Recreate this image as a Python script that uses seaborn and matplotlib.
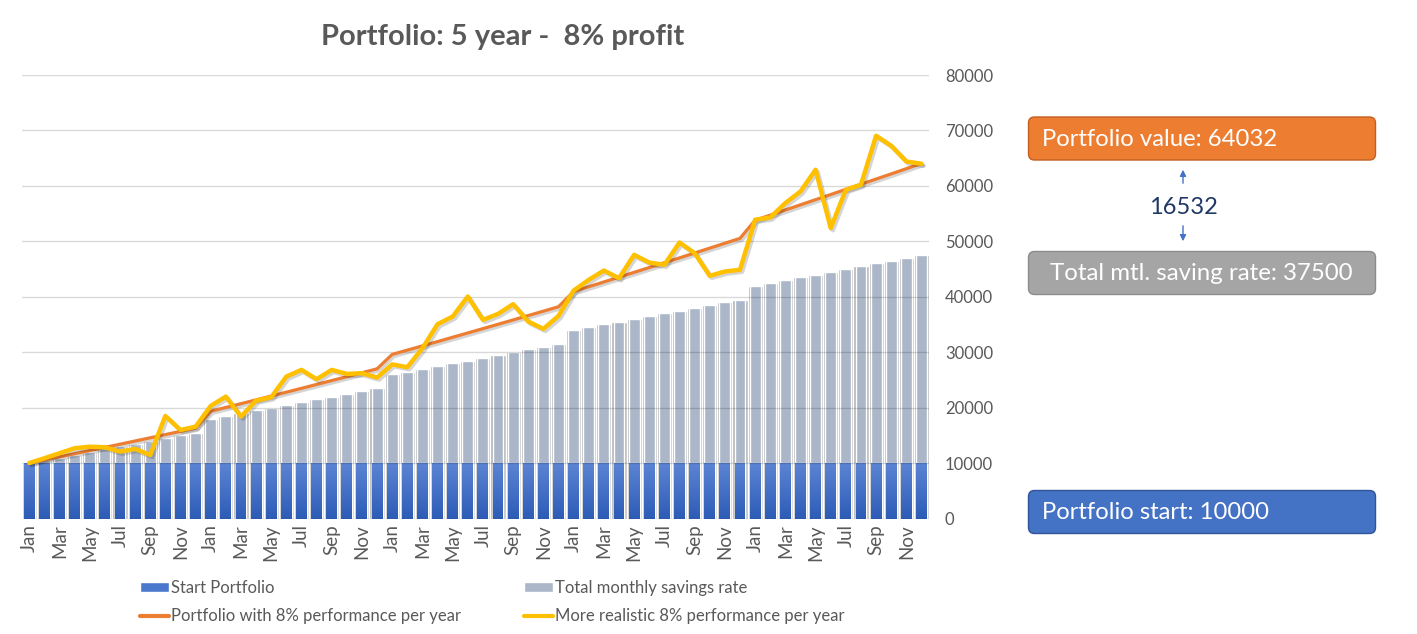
import numpy as np
import pandas as pd
import seaborn as sns
import matplotlib.pyplot as plt
import matplotlib.patheffects as pe
from matplotlib.patches import Patch, FancyBboxPatch
from matplotlib.lines import Line2D
from matplotlib.path import Path
from matplotlib.colors import LinearSegmentedColormap

# --- data ---
month_names = ['Jan', 'Feb', 'Mar', 'Apr', 'May', 'Jun',
               'Jul', 'Aug', 'Sep', 'Oct', 'Nov', 'Dec'] * 5

start_portfolio = [10000] * 60

monthly_savings = [0, 500, 1000, 1500, 2000, 2500, 3000, 3500, 4000, 4500, 5000, 5500,
                   8000, 8500, 9000, 9500, 10000, 10500, 11000, 11500, 12000, 12500, 13000, 13500,
                   16000, 16500, 17000, 17500, 18000, 18500, 19000, 19500, 20000, 20500, 21000, 21500,
                   24000, 24500, 25000, 25500, 26000, 26500, 27000, 27500, 28000, 28500, 29000, 29500,
                   32000, 32500, 33000, 33500, 34000, 34500, 35000, 35500, 36000, 36500, 37000, 37500]

perf_8 = [10000, 10560, 11120, 11690, 12260, 12830, 13400, 13980, 14560, 15140, 15720, 16300,
          19350, 20030, 20710, 21400, 22090, 22780, 23480, 24180, 24880, 25580, 26290, 27000,
          29600, 30370, 31140, 31910, 32690, 33470, 34250, 35030, 35820, 36610, 37400, 38200,
          40950, 41810, 42670, 43530, 44400, 45270, 46140, 47010, 47890, 48770, 49650, 50530,
          53800, 54720, 55650, 56580, 57510, 58440, 59370, 60300, 61230, 62160, 63100, 64032]

realistic_8 = [10000, 10870, 11770, 12670, 12960, 12850, 12060, 12550, 11460, 18500, 15970, 16570,
               20310, 21990, 18380, 21270, 21870, 25600, 26810, 25130, 26810, 26080, 26210, 25420,
               27800, 27290, 30720, 35050, 36430, 40040, 35830, 36910, 38660, 35520, 34200, 36550,
               41120, 43050, 44730, 43350, 47560, 46170, 45760, 49780, 47870, 43770, 44550, 44860,
               53900, 54300, 56900, 58990, 62910, 52380, 59300, 60200, 69040, 67240, 64400, 63990]

df = pd.DataFrame({'idx': range(60), 'month': month_names, 'start': start_portfolio,
                   'savings': monthly_savings, 'perf': perf_8, 'real': realistic_8})
df['total'] = df['start'] + df['savings']

BLUE = '#4472C4'
GRAY_BAR = '#ABB6C8'
ORANGE = '#ED7D31'
YELLOW = '#FFC000'
TXT = '#595959'

sns.set_theme(style='white')
plt.rcParams['font.family'] = ['Lato', 'DejaVu Sans']

fig = plt.figure(figsize=(14.17, 6.34), dpi=100)
ax = fig.add_axes([21.7 / 1417, 1 - 518.5 / 634, (929 - 21.7) / 1417, (518.5 - 75) / 634])

# shadow behind the bars
sns.barplot(data=df, x='idx', y='total', color='#b4b4b4', width=1.0, saturation=1, ax=ax)
sns.barplot(data=df, x='idx', y='total', color=GRAY_BAR, width=0.72, saturation=1, ax=ax)
n_before = len(ax.patches)
sns.barplot(data=df, x='idx', y='start', color=BLUE, width=0.72, saturation=1, ax=ax)
blue_bars = ax.patches[n_before:]

# gradient on the start portfolio bars
paths = [p.get_path().transformed(p.get_patch_transform()) for p in blue_bars]
clip = Path.make_compound_path(*paths)
cmap = LinearSegmentedColormap.from_list('bl', ['#2D5CB6', '#5C84D4'])
grad = np.linspace(0, 1, 256).reshape(-1, 1)
im = ax.imshow(grad, extent=[-0.5, 59.5, 0, 10000], origin='lower', aspect='auto',
               cmap=cmap, zorder=1.5)
im.set_clip_path(clip, ax.transData)

shadow = [pe.SimpleLineShadow(offset=(1.5, -1.5), alpha=0.18), pe.Normal()]
sns.lineplot(data=df, x='idx', y='perf', color=ORANGE, lw=2.3, zorder=3,
             path_effects=shadow, ax=ax)
sns.lineplot(data=df, x='idx', y='real', color=YELLOW, lw=3.2, zorder=4,
             path_effects=shadow, ax=ax)

ax.set_xlim(-0.5, 59.5)
ax.set_ylim(0, 80000)
ax.set_yticks(range(0, 80001, 10000))
ax.yaxis.tick_right()
ax.tick_params(axis='y', length=0, pad=11.5, labelsize=12, labelcolor=TXT)
for lab in ax.get_yticklabels():
    lab.set_horizontalalignment('left')
ax.set_xticks(range(0, 60, 2))
ax.set_xticklabels(month_names[::2], rotation=90)
ax.tick_params(axis='x', length=0, pad=4, labelsize=13.5, labelcolor=TXT)
ax.set_xlabel('')
ax.set_ylabel('')
ax.grid(axis='y', color='black', alpha=0.15, lw=1)
ax.grid(axis='x', visible=False)
ax.set_axisbelow(False)
for s in ax.spines.values():
    s.set_visible(False)

fig.text(503 / 1417, 1 - 37 / 634, 'Portfolio: 5 year -  8% profit', ha='center', va='center',
         fontsize=21, fontweight='bold', color=TXT)

handles = [Patch(facecolor='#4a78cc'), Line2D([], [], color=ORANGE, lw=3),
           Patch(facecolor=GRAY_BAR), Line2D([], [], color=YELLOW, lw=3)]
labels = ['Start Portfolio', 'Portfolio with 8% performance per year',
          'Total monthly savings rate', 'More realistic 8% performance per year']
fig.legend(handles, labels, ncol=2, loc='upper left', bbox_to_anchor=(140 / 1417, 1 - 580 / 634),
           frameon=False, fontsize=12, handlelength=1.75, handleheight=0.55, handletextpad=0.12,
           columnspacing=3.75, labelspacing=0.75, borderpad=0, borderaxespad=0, labelcolor=TXT)

# side boxes in pixel coordinates
oax = fig.add_axes([0, 0, 1, 1])
oax.set_xlim(0, 1417)
oax.set_ylim(634, 0)
oax.axis('off')
oax.patch.set_alpha(0)

boxes = [(117, ORANGE, '#C45F20'), (251.5, '#A5A5A5', '#8C8C8C'), (490.5, BLUE, '#2F5597')]
for top, fc, ec in boxes:
    oax.add_patch(FancyBboxPatch((1028.5, top), 347, 43, boxstyle='round,pad=0,rounding_size=6',
                                 fc=fc, ec=ec, lw=1))
oax.text(1042, 139, 'Portfolio value: 64032', color='white', fontsize=17.2, va='center', ha='left')
oax.text(1201.5, 273, 'Total mtl. saving rate: 37500', color='white', fontsize=17.3,
         va='center', ha='center')
oax.text(1042, 512.5, 'Portfolio start: 10000', color='white', fontsize=17.2, va='center', ha='left')
oax.text(1183, 208, '16532', color='#1F3864', fontsize=17, va='center', ha='center')
oax.annotate('', xy=(1183, 167), xytext=(1183, 186),
             arrowprops=dict(arrowstyle='-|>', color=BLUE, lw=1, mutation_scale=9))
oax.annotate('', xy=(1183, 244), xytext=(1183, 223),
             arrowprops=dict(arrowstyle='-|>', color=BLUE, lw=1, mutation_scale=9))

fig.savefig('out.png', dpi=100)
